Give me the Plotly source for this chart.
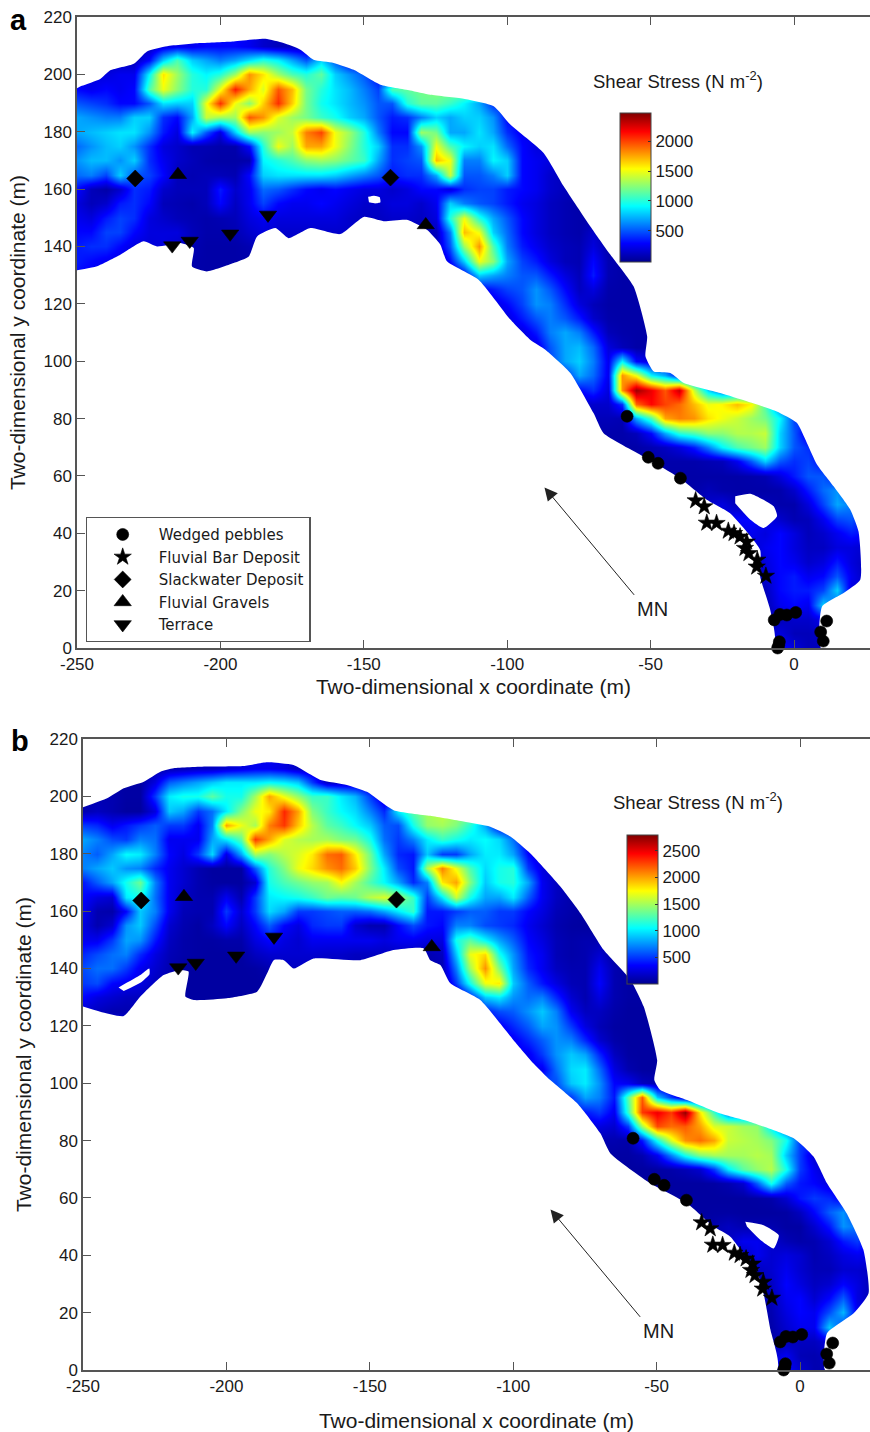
import numpy as np
import pandas as pd
import plotly.graph_objects as go

# ------------------------------------------------------------------ data
X_GRID = list(range(-250, 30, 5))
Y_GRID = list(range(0, 220, 5))

# Field values, row by row (y, first x of the row, values every 5 m)
A_Y = [210, 205, 200, 195, 190, 185, 180, 175, 170, 165, 160, 155, 150, 145, 140, 135, 135, 130, 130,
       125, 120, 115, 110, 105, 100, 95, 90, 85, 80, 75, 70, 65, 60, 55, 50, 45, 40, 35, 30, 25, 20, 15, 10, 5, 0]
A_X0 = [-225, -230, -240, -250, -250, -250, -250, -250, -250, -250, -250, -250, -250, -250, -250, -250, -120, -250, -115,
        -110, -105, -100, -95, -90, -85, -80, -75, -70, -70, -65, -60, -55, -45, -40, -35, -30, -25, -15, -15, -15, -10, -10, -10, -10, -10]
A_Z = [
 [100,200,250,250,300,300,300,250,150,100,100],
 [100,300,800,1100,800,700,600,700,850,1000,900,700,500,800,500,250],
 [200,250,250,900,1600,1300,1000,900,1000,1300,1800,1600,1300,1100,1000,1150,800,650,500,300],
 [300,250,300,250,300,1100,1500,1250,1000,1000,1500,2100,1750,1450,1950,1700,1200,1000,850,750,600,450,1100,1150,1200,1250],
 [500,450,400,300,300,500,850,800,800,1500,2050,1500,1250,1650,2050,1650,1200,950,850,750,650,500,500,1000,1150,1150,1050,900,700,400],
 [700,650,600,600,800,800,400,300,700,1400,1300,1300,1950,1800,1450,1300,1200,1050,950,800,700,500,350,400,600,800,700,800,800,650,300],
 [700,750,800,850,850,650,350,200,900,500,200,800,1300,1250,1300,1400,1850,2000,1500,1300,1000,600,300,300,1300,1200,700,700,850,700,400,250],
 [550,650,750,800,650,400,200,150,80,80,60,60,300,1000,1500,1300,1750,1750,1500,1250,1000,800,400,400,650,1500,1100,900,800,850,550,300,200],
 [650,750,750,650,800,400,250,150,100,60,50,50,60,900,1000,1100,1250,1300,1250,1150,1050,700,400,450,500,1700,1500,600,600,900,800,300,250,200],
 [550,600,450,800,500,450,300,100,80,100,100,80,300,800,850,850,850,850,800,700,600,500,350,400,400,700,1400,500,500,600,800,300,250,150,100],
 [300,100,50,150,400,350,150,100,100,100,350,150,250,550,500,400,300,250,300,250,200,200,150,200,300,300,200,400,450,450,350,300,250,150,100],
 [200,100,150,350,400,300,100,80,60,100,300,120,250,450,300,250,250,300,250,200,150,150,200,200,150,250,800,600,500,450,350,250,200,120,80,50],
 [250,200,350,450,400,200,150,100,80,60,80,100,200,250,200,200,200,200,200,150,120,120,150,150,120,200,1000,1500,1000,700,500,300,200,120,80,60,50],
 [300,300,450,450,300,200,200,200,100,60,60,80,150,200,150,150,150,150,150,150,100,100,100,100,100,100,600,1700,1500,800,550,300,200,120,80,60,150,50],
 [350,400,400,300,200,180,200,150,80,50,50,50,80,150,150,150,150,150,150,120,100,100,100,100,100,100,500,1300,1800,1100,600,350,250,150,100,80,200,60,50],
 [350,300,250,200,200,200,200,100,60,50,50,50,50],
 [300,800,1500,1250,700,450,350,200,100,80,300,80,50],
 [300,250,200,200,200,150,120,80,50,50,50,50,50],
 [250,800,700,600,500,500,350,200,100,350,80,50,50],
 [250,350,450,500,650,500,300,120,200,60,50,50],
 [200,300,450,650,600,400,200,100,50,50,50],
 [200,350,500,600,500,350,150,60,50,50,50],
 [200,350,600,700,600,350,100,60,50,50],
 [200,500,700,750,550,200,100,50,50],
 [450,700,800,600,250,900,300,200],
 [400,700,550,250,1800,1500,900,700,300],
 [300,400,200,1800,2400,2200,1950,2300,1400,800,500],
 [150,150,400,1900,2150,2000,1900,1700,1500,1550,1700,1550,1100,500],
 [100,100,80,700,1100,1750,1850,1800,1600,1500,1400,1300,1200,900,450],
 [60,60,100,300,700,1000,1100,1250,1250,1350,1350,1400,800,500,200],
 [50,50,80,120,200,350,600,900,1100,1200,1300,800,500,400,200],
 [50,50,60,60,60,80,100,250,500,800,500,400,450,300],
 [50,50,50,50,50,50,60,80,200,350,500,500,300],
 [50,50,100,60,50,50,50,60,150,350,550,650,350],
 [50,150,200,100,100,100,60,60,200,450,700,600],
 [100,200,300,300,250,150,80,100,250,450,500,300],
 [100,150,250,200,300,200,100,150,250,350,300],
 [150,250,300,200,120,120,200,200,150],
 [100,200,300,250,150,200,350,200,100],
 [100,150,300,350,250,300,500,250,100],
 [100,300,350,350,450,800,200],
 [80,250,300,250,800,500],
 [60,100,150,150,250],
 [150,200,100,100,150],
 [200,300,200,100,100],
]

B_Y = [210, 205, 200, 195, 190, 185, 180, 175, 170, 165, 160, 155, 150, 145, 140, 135, 135, 130, 130, 125, 125,
       120, 115, 110, 105, 100, 95, 90, 85, 80, 75, 70, 65, 60, 55, 50, 45, 40, 35, 30, 25, 20, 15, 10, 5, 0]
B_X0 = [-225, -230, -240, -250, -250, -250, -250, -250, -250, -250, -250, -250, -250, -250, -250, -250, -120, -250, -115, -250, -110,
        -105, -100, -95, -90, -85, -80, -75, -70, -70, -65, -60, -55, -45, -40, -35, -30, -25, -15, -15, -15, -10, -10, -10, -10, -10]
B_Z = [
 [80,100,120,150,150,200,250,300,300,250,150],
 [60,250,600,700,800,900,1000,1000,1000,1050,1000,900,500,150],
 [100,60,60,500,1000,1100,1100,1300,1100,1100,1500,2000,1700,1450,1200,1200,1000,850,500,200],
 [100,150,100,50,50,250,900,800,500,650,1000,1400,1700,1800,2350,2000,1400,1200,1050,950,700,450,1000,1300,1500,1600,1500],
 [500,450,300,400,500,600,500,500,300,700,2000,1700,1500,2100,2300,1900,1550,1300,1200,1050,900,600,550,1100,1450,1500,1400,1150,800,300],
 [800,700,550,500,700,650,300,300,300,800,1000,1300,2300,2000,1650,1550,1500,1500,1400,1350,1100,650,500,700,1000,1200,1100,1000,1050,950,650,250],
 [700,600,800,1050,1000,700,350,250,500,950,250,800,1500,1400,1550,1650,1800,2150,2200,1800,1350,800,450,400,900,500,500,800,1000,1000,800,350,200],
 [700,800,900,750,700,450,300,200,100,50,50,50,600,1150,1400,1700,1850,2050,2150,1900,1400,1000,550,400,1500,2100,1700,1250,950,1100,1150,500,250,150],
 [400,600,800,1100,1350,700,300,200,100,60,50,50,200,1100,1250,1350,1450,1500,1750,1500,1250,1050,800,450,700,1800,2000,1400,900,1100,1150,800,300,150,100],
 [350,250,200,1000,1100,650,300,150,100,100,300,100,500,1000,1050,1100,1200,1350,1300,1350,1550,1650,1500,1200,500,1000,1600,1100,800,800,1000,600,300,150,80],
 [300,100,80,350,900,700,300,120,100,100,500,200,500,950,800,500,500,550,600,600,650,800,1000,1200,400,400,500,600,600,500,500,350,250,120,80,50],
 [250,100,200,750,900,550,200,100,60,150,350,150,350,600,350,250,450,500,500,200,100,100,350,550,400,350,700,700,550,500,450,300,200,100,60,50],
 [300,300,500,800,750,400,150,80,60,60,80,80,250,350,250,200,300,300,300,300,300,250,300,300,250,250,1100,1300,1050,800,600,350,250,120,80,100,100,50],
 [450,550,650,700,450,250,120,80,60,50,50,50,150,200,200,200,200,180,180,150,150,150,150,150,100,150,900,1700,1850,1100,750,400,300,120,80,100,200,60],
 [550,650,650,500,300,200,100,50,50,50,50,50,60,100,150,150,150,150,150,120,120,120,120,120,100,100,700,1500,2050,1400,800,450,300,150,100,100,300,100,50],
 [500,550,350,300,250,150,100,50,50,50,50,50,50],
 [500,1100,1700,1800,900,600,400,250,120,100,350,100,60],
 [350,250,200,150,150,100,80,50,50,50,50,50,50],
 [400,900,1000,750,650,700,450,200,100,250,100,60,60],
 [200,150,100,100,100],
 [400,550,600,750,900,700,300,150,150,80,50,50],
 [300,450,600,800,750,500,250,120,60,50,50],
 [300,450,600,750,700,450,200,80,50,50,50],
 [300,500,750,900,800,450,150,60,50,50],
 [300,650,950,1000,650,250,100,50,50],
 [550,900,1000,750,350,300,150,100],
 [500,800,700,400,1300,2200,900,500,150],
 [400,500,300,1200,2300,2500,2300,2750,1800,1200,600],
 [250,200,500,1500,2250,2150,2200,2000,1650,1600,1500,1450,1000,500],
 [100,100,80,400,1100,1650,2050,2150,2000,1600,1550,1500,1400,1100,500],
 [60,60,100,300,700,1100,1400,1500,1500,1500,1550,1500,900,500,200],
 [50,50,60,80,120,200,500,1000,1300,1450,1550,1100,500,300,150],
 [50,50,50,50,50,60,100,200,600,1100,600,400,350,250],
 [50,50,50,50,50,50,60,80,200,400,500,450,300],
 [50,50,60,60,50,50,50,60,150,350,600,750,400],
 [50,100,150,100,100,100,60,60,200,400,750,650,300],
 [80,150,300,300,200,120,80,100,200,400,500,300],
 [100,150,300,200,250,200,100,150,250,300,250],
 [150,200,300,200,120,120,200,200,150],
 [100,150,350,250,150,200,350,250,100],
 [100,120,300,350,200,350,600,250,100],
 [100,250,350,300,550,850,300],
 [80,200,300,300,900,500],
 [60,120,150,150,250],
 [200,300,120,100,150],
 [250,350,200,100,100],
]

# River outline
A_UP_X = [-250,-248.3,-241.9,-238.4,-230.2,-225.6,-218.6,-207,-195.4,-184.3,-178,-172.1,-167.5,-160.5,-153.5,-144.2,-133.8,-126.8,-115.2,-104.7,-98.9,-87.3,-80.3,-71,-64,-55.9,-51.2,-51.8,-48.9,-43.1,-38.4,-25.7,-16.4,-6,1,4.5,8,13.8,19.6,22.5,23.1,17.3,9.8,9.4]
A_UP_Y = [195.2,196,198.4,201.4,203.7,208,209.8,210.9,211.5,212.4,210.9,208.6,205.1,204,201.6,196.4,194.4,192.9,191.5,188.9,182.5,172.6,161,147,137.1,126,108.6,101.7,96.4,95.9,92.4,88.9,86,82.5,78.5,71.5,64,56.4,48.3,40.6,23.8,19.2,14.5,0]
A_LO_X = [-250,-243,-234.9,-226.8,-222.1,-214,-209.3,-209.9,-204.7,-195.4,-190.1,-187.2,-180.8,-176.2,-168.6,-158.2,-150,-143.1,-135,-128,-123.3,-121,-110,-98.9,-92,-86.7,-78,-69.9,-66.4,-52.5,-39.7,-30.4,-22.3,-11.8,-11.8,-8.3,-7.1]
A_LO_Y = [131.7,133.1,137.1,141.8,140,141.2,139.5,133,131.3,134.2,136.5,143.5,146.4,142.9,146.4,144.3,150.3,148.8,149.3,145.8,140.6,134.8,128.4,114.5,107.5,104,95.9,81.9,74.9,66.8,59.2,51.7,47,34.2,24.9,13.3,0]
A_ISLE1_X = [-20.5,-15.2,-7.1,-5.9,-10.6,-15.2,-20.5]
A_ISLE1_Y = [52.9,53.8,49.4,45.9,41.8,44.7,50.5]
A_ISLE2_X = [-148.5,-146.5,-144.5,-144.2,-146,-148.2]
A_ISLE2_Y = [157.3,157.7,157.2,155.4,155,155.4]

B_UP_X = [-250,-241.6,-235.8,-228.8,-223,-218.4,-206.8,-194,-185.8,-176.6,-167.2,-158,-151,-141.7,-128.9,-117.3,-108,-101,-94,-83.5,-76.5,-68.4,-59.1,-54.5,-49.8,-50.8,-48.7,-39.4,-27.8,-17.4,-2.2,4.7,9.4,16.3,22.1,23.9,18.7,9.4,8.8]
B_UP_Y = [196.2,199.3,202.8,205.1,208.6,209.8,210.4,210.6,211.9,210.9,205.7,204,201.6,195.2,193.2,191.2,189.4,186,180.1,168.5,159.2,146.4,136,126.7,108,101.1,97.6,94.1,89.4,86.5,80.8,74.4,65.1,54.6,41.9,26.8,19.8,12.8,0]
B_LO_X = [-250,-244,-235.8,-230,-221.9,-216,-213.2,-214.3,-211.4,-199.8,-189.3,-185.8,-183.5,-180,-176.5,-169.6,-153.3,-141.7,-131.2,-128.9,-125.4,-121.9,-111.5,-99.9,-92.9,-87.1,-77.7,-69.6,-66.1,-52.2,-39.4,-30.2,-24.3,-14.4,-12.7,-10.3,-8]
B_LO_Y = [126.7,124.9,123.4,130.2,137.7,139.5,138.9,130.2,129,129.6,131.9,138.3,142.9,142.9,140,143.5,142.9,146.4,147,142.9,141.2,134.8,129,115,106.9,101.1,93,82.5,75.5,65.1,58.1,50,46.5,32.5,26.8,14,0]
B_ISLE1_X = [-19.1,-12.7,-7.4,-9.2,-13.8,-18.5]
B_ISLE1_Y = [51.7,50.5,47,42.4,45.3,50]
B_ISLE2_X = [-237.6,-230,-226.9,-226.8,-230,-235.8]
B_ISLE2_Y = [133.4,137.7,140,138,135,132.1]

# Field observations
PEBBLE_X = [-58.2,-50.8,-47.4,-39.6,-6.9,-4.9,-2.5,0.6,11.4,9.3,10.2,-5.1,-5.7,-5.3]
PEBBLE_Y = [80.8,66.5,64.4,59.2,9.8,11.7,11.5,12.4,9.4,5.6,2.4,2.2,0,1]
BAR_X = [-34.3,-31.3,-30.4,-27,-22.9,-20.9,-18.8,-16.5,-17.1,-15.7,-12.8,-13,-9.8]
BAR_Y = [51.4,49.3,43.6,43.5,40.8,40,38.8,37,34.8,33,30.7,28.3,25.1]
SLACK_X = [-229.7,-140.7]
SLACK_Y = [163.7,164]
GRAVEL_X = [-214.8,-128.4]
GRAVEL_Y = [165,147.5]
TERRACE_X = [-216.8,-210.7,-196.6,-183.4]
TERRACE_Y = [140.3,141.9,144.4,151]

NORTH_HEAD = (-87, 56)
NORTH_TAIL = (-55.3, 18)
NORTH_LABEL = (-49.4, 13.6)

X_TICKS = [-250, -200, -150, -100, -50, 0]
X_LABELS = ["-250", "-200", "-150", "-100", "-50", "0"]
Y_TICKS = list(range(0, 240, 20))

JET = [[0, "rgb(0,0,143)"], [0.125, "rgb(0,0,255)"], [0.375, "rgb(0,255,255)"],
       [0.625, "rgb(255,255,0)"], [0.875, "rgb(255,0,0)"], [1, "rgb(128,0,0)"]]

# ------------------------------------------------------------------ layout numbers
W, H = 870, 1432
FONT = "Liberation Sans"
INK = "#1a1a1a"
AXC = "#555555"
fx = lambda px: px / W
fy = lambda py: 1 - py / H


def field(ys, x0s, rows):
    d = pd.DataFrame(np.nan, index=Y_GRID, columns=X_GRID, dtype=float)
    for y, x0, vals in zip(ys, x0s, rows):
        for i, v in enumerate(vals):
            d.loc[y, x0 + 5 * i] = v
    # cells outside the river only carry the nearest river value; the white masks hide them
    d = d.ffill(axis=1).bfill(axis=1).ffill(axis=0).bfill(axis=0)
    return d.values.tolist()


def mask(x, y, xa, ya):
    return go.Scatter(x=x, y=y, mode="lines", line=dict(width=0, color="white", shape="spline", smoothing=0.5),
                      fill="toself", fillcolor="white", hoverinfo="skip", showlegend=False, xaxis=xa, yaxis=ya)


def markers(name, x, y, symbol, size, xa, ya, legend):
    return go.Scatter(x=x, y=y, mode="markers", name=name, showlegend=legend, cliponaxis=False,
                      marker=dict(symbol=symbol, size=size, color="black", line=dict(width=0.6, color="black")),
                      xaxis=xa, yaxis=ya)


fig = go.Figure()
PANELS = [
    dict(xa="x", ya="y", ys=A_Y, x0=A_X0, z=A_Z, zmin=-20, zmax=2470, ticks=[500, 1000, 1500, 2000],
         cb=(620, 113, 149), up=(A_UP_X, A_UP_Y), lo=(A_LO_X, A_LO_Y), isles=[(A_ISLE1_X, A_ISLE1_Y), (A_ISLE2_X, A_ISLE2_Y)],
         xmax=26.5, legend=True),
    dict(xa="x2", ya="y2", ys=B_Y, x0=B_X0, z=B_Z, zmin=-5, zmax=2800, ticks=[500, 1000, 1500, 2000, 2500],
         cb=(627, 835, 149), up=(B_UP_X, B_UP_Y), lo=(B_LO_X, B_LO_Y), isles=[(B_ISLE1_X, B_ISLE1_Y), (B_ISLE2_X, B_ISLE2_Y)],
         xmax=24.4, legend=False),
]
for p in PANELS:
    cx, cy, cl = p["cb"]
    fig.add_trace(go.Heatmap(
        x=X_GRID, y=Y_GRID, z=field(p["ys"], p["x0"], p["z"]), zsmooth="best", colorscale=JET,
        zmin=p["zmin"], zmax=p["zmax"], xaxis=p["xa"], yaxis=p["ya"], hoverongaps=False,
        colorbar=dict(x=fx(cx), xanchor="left", y=fy(cy), yanchor="top", lenmode="pixels", len=cl,
                      thickness=31, thicknessmode="pixels", xpad=0, ypad=0, outlinecolor="#444444", outlinewidth=1,
                      tickvals=p["ticks"], ticks="inside", ticklen=3, tickcolor="#333333", tickwidth=1,
                      tickfont=dict(family=FONT, size=17, color=INK))))
    up_x, up_y = p["up"]
    lo_x, lo_y = p["lo"]
    fig.add_trace(mask(up_x + [p["xmax"], p["xmax"], -250], up_y + [0, 220, 220], p["xa"], p["ya"]))
    fig.add_trace(mask(lo_x + [-250], lo_y + [0], p["xa"], p["ya"]))
    for ix, iy in p["isles"]:
        fig.add_trace(mask(ix, iy, p["xa"], p["ya"]))
    fig.add_trace(markers("Wedged pebbles", PEBBLE_X, PEBBLE_Y, "circle", 12, p["xa"], p["ya"], p["legend"]))
    fig.add_trace(markers("Fluvial Bar Deposit", BAR_X, BAR_Y, "star", 13, p["xa"], p["ya"], p["legend"]))
    fig.add_trace(markers("Slackwater Deposit", SLACK_X, SLACK_Y, "diamond", 13, p["xa"], p["ya"], p["legend"]))
    fig.add_trace(markers("Fluvial Gravels", GRAVEL_X, GRAVEL_Y, "triangle-up", 15, p["xa"], p["ya"], p["legend"]))
    fig.add_trace(markers("Terrace", TERRACE_X, TERRACE_Y, "triangle-down", 15, p["xa"], p["ya"], p["legend"]))


def xaxis(left, xmax, standoff, anchor):
    return dict(domain=[fx(left), 1], range=[-250, xmax], anchor=anchor, automargin=False,
                tickvals=X_TICKS, ticktext=X_LABELS, ticks="inside", ticklen=8,
                tickcolor=AXC, tickwidth=1, showline=True, linecolor=AXC, linewidth=1.5, mirror="ticks",
                showgrid=False, zeroline=False, tickfont=dict(family=FONT, size=17, color=INK),
                title=dict(text="Two-dimensional x coordinate (m)", standoff=standoff,
                           font=dict(family=FONT, size=21, color=INK)))


def yaxis(top, bottom, standoff, anchor):
    return dict(domain=[fy(bottom), fy(top)], range=[0, 220], anchor=anchor, automargin=False,
                tickvals=Y_TICKS, ticks="inside", ticklen=8,
                tickcolor=AXC, tickwidth=1, showline=True, linecolor=AXC, linewidth=1.5,
                showgrid=False, zeroline=False, tickfont=dict(family=FONT, size=17, color=INK),
                title=dict(text="Two-dimensional y coordinate (m)", standoff=standoff,
                           font=dict(family=FONT, size=21, color=INK)))


annotations = []
for xr, yr in (("x", "y"), ("x2", "y2")):
    annotations.append(dict(x=NORTH_HEAD[0], y=NORTH_HEAD[1], ax=NORTH_TAIL[0], ay=NORTH_TAIL[1], xref=xr, yref=yr,
                            axref=xr, ayref=yr, text="", showarrow=True, arrowhead=2, arrowsize=2.6, arrowwidth=1,
                            arrowcolor="#222222"))
    annotations.append(dict(x=NORTH_LABEL[0], y=NORTH_LABEL[1], xref=xr, yref=yr, text="MN", showarrow=False,
                            font=dict(family=FONT, size=20, color=INK)))
for txt, px, py in (("Shear Stress (N m<sup>-2</sup>)", 678, 80), ("Shear Stress (N m<sup>-2</sup>)", 698, 801)):
    annotations.append(dict(x=fx(px), y=fy(py), xref="paper", yref="paper", xanchor="center", yanchor="middle",
                            text=txt, showarrow=False, font=dict(family=FONT, size=18.5, color=INK)))
for txt, px, py in (("a", 18, 20), ("b", 20, 741)):
    annotations.append(dict(x=fx(px), y=fy(py), xref="paper", yref="paper", xanchor="center", yanchor="middle",
                            text=f"<b>{txt}</b>", showarrow=False, font=dict(family=FONT, size=29, color="black")))

fig.update_layout(
    width=W, height=H, margin=dict(l=0, r=0, t=0, b=0), paper_bgcolor="white", plot_bgcolor="white",
    font=dict(family=FONT, color=INK),
    xaxis=xaxis(77, 26.5, 6, "y"), yaxis=yaxis(17, 648, 12, "x"),
    xaxis2=xaxis(83, 24.4, 30, "y2"), yaxis2=yaxis(739, 1370, 12, "x2"),
    legend=dict(x=fx(85.5), y=fy(517), xanchor="left", yanchor="top", bgcolor="white", bordercolor=AXC, borderwidth=1.2,
                itemwidth=62, entrywidth=184, entrywidthmode="pixels", tracegroupgap=0,
                font=dict(family="DejaVu Sans", size=15, color=INK)),
    annotations=annotations,
)

fig.write_html("out.html", config=dict(displayModeBar=False), post_script="document.body.style.margin='0';")
